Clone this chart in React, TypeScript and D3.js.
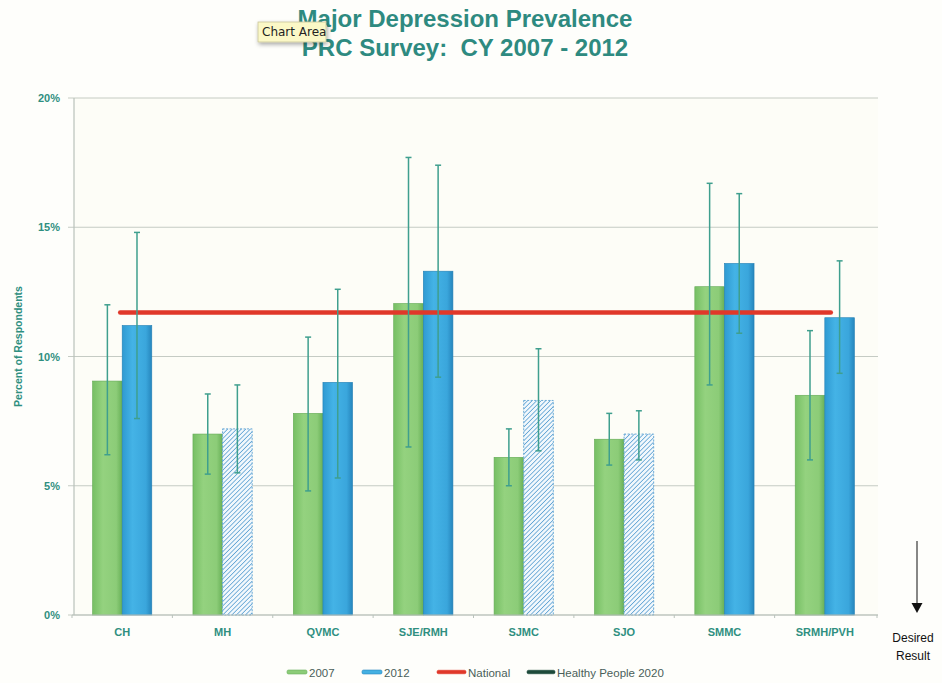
import React from "react";
import * as d3 from "d3";

const categories = ["CH", "MH", "QVMC", "SJE/RMH", "SJMC", "SJO", "SMMC", "SRMH/PVH"];
const values2007 = [9.05, 7.0, 7.8, 12.05, 6.1, 6.8, 12.7, 8.5];
const low2007 = [6.2, 5.45, 4.8, 6.5, 5.0, 5.8, 8.9, 6.0];
const high2007 = [12.0, 8.55, 10.75, 17.7, 7.2, 7.8, 16.7, 11.0];
const values2012 = [11.2, 7.2, 9.0, 13.3, 8.3, 7.0, 13.6, 11.5];
const low2012 = [7.6, 5.5, 5.3, 9.2, 6.35, 6.0, 10.9, 9.35];
const high2012 = [14.8, 8.9, 12.6, 17.4, 10.3, 7.9, 16.3, 13.7];
const hatched2012 = [false, true, false, false, true, true, false, false];
const nationalValue = 11.7;
const yTicks = [0, 5, 10, 15, 20];
const legendItems = ["2007", "2012", "National", "Healthy People 2020"];

const W = 942;
const H = 683;
const teal = "#2f8f80";
const font = "Arial, 'Liberation Sans', Helvetica, sans-serif";

export default function App() {
  const x = d3.scaleBand<string>().domain(categories).range([72, 875]).paddingInner(0).paddingOuter(0);
  const y = d3.scaleLinear().domain([0, 20]).range([615, 98]);
  const step = x.step();
  const groupW = step * 0.59;
  const barW = groupW / 2;
  const plotLeft = 74;
  const plotRight = 878;

  const errBar = (cx: number, lo: number, hi: number, key: string) => (
    <g key={key} stroke="#3f9f8e" strokeWidth={1.5}>
      <line x1={cx} x2={cx} y1={y(lo)} y2={y(hi)} />
      <line x1={cx - 3} x2={cx + 3} y1={y(lo)} y2={y(lo)} />
      <line x1={cx - 3} x2={cx + 3} y1={y(hi)} y2={y(hi)} />
    </g>
  );

  const nationalX1 = (x(categories[0]) as number) + step / 2 - 2;
  const nationalX2 = (x(categories[categories.length - 1]) as number) + step / 2 + 6;

  return (
    <svg
      width={W}
      height={H}
      style={{ position: "absolute", left: 0, top: 0, background: "#fefefb" }}
      fontFamily={font}
    >
      <defs>
        <linearGradient id="g2007" x1="0" x2="1" y1="0" y2="0">
          <stop offset="0" stopColor="#76bf64" />
          <stop offset="0.35" stopColor="#94d27f" />
          <stop offset="0.8" stopColor="#8ccc78" />
          <stop offset="1" stopColor="#68b057" />
        </linearGradient>
        <linearGradient id="g2012" x1="0" x2="1" y1="0" y2="0">
          <stop offset="0" stopColor="#2f9ad2" />
          <stop offset="0.35" stopColor="#44b3e6" />
          <stop offset="0.8" stopColor="#3aa6dc" />
          <stop offset="1" stopColor="#2686bd" />
        </linearGradient>
        <pattern id="hatch" width="3.2" height="3.2" patternUnits="userSpaceOnUse" patternTransform="rotate(45)">
          <rect width="3.2" height="3.2" fill="#f2f8fc" />
          <line x1="0" y1="0" x2="0" y2="3.2" stroke="#579fd2" strokeWidth="1.5" />
        </pattern>
        <filter id="shadow" x="-20%" y="-20%" width="150%" height="160%">
          <feDropShadow dx="1" dy="2" stdDeviation="2" floodOpacity="0.35" />
        </filter>
      </defs>

      {/* plot background */}
      <rect x={plotLeft} y={y(20)} width={plotRight - plotLeft} height={y(0) - y(20)} fill="#fdfdf7" />

      {/* gridlines */}
      {yTicks.map((t) => (
        <line
          key={"g" + t}
          x1={plotLeft - 6}
          x2={plotRight}
          y1={y(t)}
          y2={y(t)}
          stroke="#c5cbc4"
          strokeWidth={1.2}
        />
      ))}
      {/* y axis */}
      <line x1={plotLeft} x2={plotLeft} y1={y(20)} y2={y(0)} stroke="#b9c2bb" strokeWidth={1.2} />
      {/* x ticks */}
      {categories.map((c) => (
        <line
          key={"xt" + c}
          x1={(x(c) as number)}
          x2={(x(c) as number)}
          y1={y(0)}
          y2={y(0) + 3}
          stroke="#b9c2bb"
        />
      ))}
      <line x1={plotRight - 1} x2={plotRight - 1} y1={y(0)} y2={y(0) + 3} stroke="#b9c2bb" />

      {/* y tick labels */}
      {yTicks.map((t) => (
        <text
          key={"yl" + t}
          x={60}
          y={y(t) + 4}
          textAnchor="end"
          fontSize={11}
          fontWeight="bold"
          fill={teal}
        >
          {t + "%"}
        </text>
      ))}
      <text
        transform={`translate(22, ${(y(0) + y(20)) / 2 - 10}) rotate(-90)`}
        textAnchor="middle"
        fontSize={10.5}
        fontWeight="bold"
        fill={teal}
      >
        Percent of Respondents
      </text>

      {/* bars */}
      {categories.map((c, i) => {
        const gx = (x(c) as number) + (step - groupW) / 2;
        const b1x = gx;
        const b2x = gx + barW;
        return (
          <g key={"b" + c}>
            <rect
              x={b1x}
              y={y(values2007[i])}
              width={barW}
              height={y(0) - y(values2007[i])}
              fill="url(#g2007)"
              stroke="#62a954"
              strokeWidth={0.6}
            />
            <rect
              x={b2x}
              y={y(values2012[i])}
              width={barW}
              height={y(0) - y(values2012[i])}
              fill={hatched2012[i] ? "url(#hatch)" : "url(#g2012)"}
              stroke={hatched2012[i] ? "#6aaad6" : "#2480b5"}
              strokeWidth={hatched2012[i] ? 1 : 0.6}
              strokeDasharray={hatched2012[i] ? "2 1.5" : undefined}
            />
          </g>
        );
      })}

      {/* x axis line */}
      <line x1={plotLeft - 2} x2={plotRight} y1={y(0)} y2={y(0)} stroke="#b9c2bb" strokeWidth={1.2} />

      {/* national line */}
      <line
        x1={nationalX1}
        x2={nationalX2}
        y1={y(nationalValue)}
        y2={y(nationalValue)}
        stroke="#e0382a"
        strokeWidth={4.5}
        strokeLinecap="round"
      />

      {/* error bars */}
      {categories.map((c, i) => {
        const gx = (x(c) as number) + (step - groupW) / 2;
        return (
          <g key={"e" + c}>
            {errBar(gx + barW / 2, low2007[i], high2007[i], "e1" + c)}
            {errBar(gx + barW * 1.5, low2012[i], high2012[i], "e2" + c)}
          </g>
        );
      })}

      {/* x labels */}
      {categories.map((c) => (
        <text
          key={"xl" + c}
          x={(x(c) as number) + step / 2}
          y={636}
          textAnchor="middle"
          fontSize={11}
          fontWeight="bold"
          fill={teal}
        >
          {c}
        </text>
      ))}

      {/* title */}
      <text x={465} y={27} textAnchor="middle" fontSize={24} fontWeight="bold" fill="#2e8a80">
        Major Depression Prevalence
      </text>
      <text x={465} y={56} textAnchor="middle" fontSize={24} fontWeight="bold" fill="#2e8a80" style={{ whiteSpace: "pre" }}>
        {"PRC Survey:  CY 2007 - 2012"}
      </text>

      {/* tooltip */}
      <g filter="url(#shadow)">
        <rect x={258} y={22} width={68} height={20} fill="#fbf8c6" stroke="#c9c49a" strokeWidth={0.8} />
      </g>
      <text x={262} y={36} fontSize={12} fill="#222" fontFamily="'DejaVu Sans', 'Liberation Sans', sans-serif">
        Chart Area
      </text>

      {/* legend */}
      {(() => {
        const items = [
          { label: legendItems[0], x: 287, color: "#8ccc78", stroke: "#6aae5a", h: 4, w: 20 },
          { label: legendItems[1], x: 362, color: "#44b0e2", stroke: "#2a88bf", h: 4, w: 20 },
          { label: legendItems[2], x: 437, color: "#e0382a", stroke: "#e0382a", h: 3.5, w: 29 },
          { label: legendItems[3], x: 527, color: "#1d4a3a", stroke: "#1d4a3a", h: 3.5, w: 28 },
        ];
        return items.map((it) => (
          <g key={"lg" + it.label}>
            <rect
              x={it.x}
              y={672 - it.h / 2}
              width={it.w}
              height={it.h}
              rx={1.5}
              fill={it.color}
              stroke={it.stroke}
              strokeWidth={0.6}
            />
            <text x={it.x + it.w + 2} y={676.5} fontSize={11.5} fill="#4a5f5a">
              {it.label}
            </text>
          </g>
        ));
      })()}

      {/* desired result */}
      <line x1={917} x2={917} y1={541} y2={603} stroke="#111" strokeWidth={1} />
      <path d="M911.5,603 L922.5,603 L917,613 Z" fill="#111" />
      <text x={913} y={642} textAnchor="middle" fontSize={12} fill="#111">
        Desired
      </text>
      <text x={913} y={660} textAnchor="middle" fontSize={12} fill="#111">
        Result
      </text>
    </svg>
  );
}
